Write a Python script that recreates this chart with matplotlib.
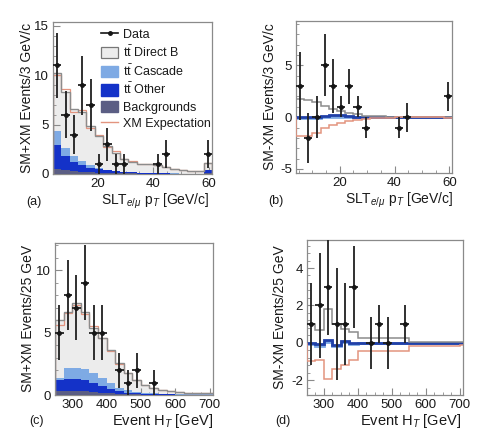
import numpy as np
import matplotlib
matplotlib.use("Agg")
import matplotlib.pyplot as plt
from matplotlib.patches import Patch
from matplotlib.lines import Line2D
from matplotlib.ticker import MultipleLocator, AutoMinorLocator

plt.rcParams['font.family'] = ['Liberation Sans', 'DejaVu Sans']
plt.rcParams['axes.unicode_minus'] = False
plt.rcParams['mathtext.fontset'] = 'custom'
plt.rcParams['mathtext.rm'] = 'Liberation Sans'
plt.rcParams['mathtext.it'] = 'Liberation Sans:italic'

# ---------------- data: lepton pT (3 GeV/c bins) ----------------
pt_edges = [4, 7, 10, 13, 16, 19, 22, 25, 28, 31, 34, 37, 40, 43, 46, 49, 52, 55, 58, 61]
pt_data = [11, 6, 4, 9, 7, 1, 3, 1, 1, None, None, None, 1, 2, None, None, None, None, 2]
pt_err = [3.3, 2.4, 2.0, 3.0, 2.6, 1.0, 1.7, 1.0, 1.0, None, None, None, 1.0, 1.4, None, None, None, None, 1.4]
pt_direct = [5.8, 5.7, 4.8, 5.0, 4.0, 3.15, 2.35, 1.75, 1.25, 1.0, 0.85, 0.88, 0.8, 0.62, 0.44, 0.35, 0.26, 0.26, 0.65]
pt_cascade = [1.5, 0.8, 0.55, 0.4, 0.25, 0.17, 0.09, 0.08, 0.05, 0.04, 0.03, 0.02, 0.02, 0.02, 0.01, 0.01, 0.01, 0.01, 0.03]
pt_other = [2.4, 1.4, 0.95, 0.65, 0.45, 0.33, 0.24, 0.17, 0.12, 0.1, 0.07, 0.06, 0.05, 0.03, 0.03, 0.02, 0.01, 0.01, 0.32]
pt_bkg = [0.5, 0.4, 0.3, 0.25, 0.2, 0.15, 0.12, 0.1, 0.08, 0.06, 0.05, 0.04, 0.03, 0.03, 0.02, 0.02, 0.02, 0.02, 0.1]
pt_xm = [10.0, 8.6, 6.3, 6.5, 4.7, 4.0, 2.7, 2.3, 1.5, 1.3, 1.0, 1.0, 0.9, 0.7, 0.5, 0.4, 0.3, 0.3, 1.1]

# SM-XM differences (pT)
pt_diff_data = [3, -2, 0, 5, 3, 1, 3, 1, -1, None, None, None, -1, 0, None, None, None, None, 2]
pt_diff_direct = [1.8, 1.7, 1.5, 1.1, 0.8, 0.6, 0.45, 0.35, 0.15, 0.1, 0.1, 0.05, 0.03, 0.02, 0.01, 0.01, 0.0, 0.0, 0.05]
pt_diff_xm = [-1.85, -1.8, -1.5, -1.05, -0.8, -0.6, -0.4, -0.3, -0.2, -0.1, -0.1, -0.05, 0.05, 0.0, 0.0, 0.0, 0.0, 0.0, -0.05]
pt_diff_cascade = [-0.1, -0.1, -0.05, 0.0, 0.05, 0.05, 0.02, 0.0, 0.0, 0.0, 0.0, 0.0, 0.0, 0.0, 0.0, 0.0, 0.0, 0.0, 0.0]
pt_diff_other = [0.0, 0.0, 0.05, 0.15, 0.2, 0.2, 0.1, 0.05, 0.02, 0.0, 0.0, 0.0, 0.0, 0.0, 0.0, 0.0, 0.0, 0.0, 0.0]

# ---------------- data: event HT (25 GeV bins) ----------------
ht_edges = [250, 275, 300, 325, 350, 375, 400, 425, 450, 475, 500, 525, 550, 575, 600, 625, 650, 675, 700, 725]
ht_data = [5, 8, 7, 9, 5, 5, None, 2, 1, 2, None, 1, None, None, None, None, None, None, None]
ht_err = [2.2, 2.8, 2.6, 3.0, 2.2, 2.2, None, 1.4, 1.0, 1.4, None, 1.0, None, None, None, None, None, None, None]
ht_direct = [4.6, 4.5, 5.2, 4.6, 3.6, 3.2, 2.6, 2.0, 1.42, 0.93, 0.6, 0.4, 0.3, 0.22, 0.18, 0.14, 0.13, 0.1, 0.1]
ht_cascade = [0.2, 0.9, 0.9, 0.9, 0.8, 0.68, 0.5, 0.3, 0.18, 0.12, 0.1, 0.07, 0.04, 0.03, 0.03, 0.02, 0.02, 0.02, 0.02]
ht_other = [0.85, 0.95, 1.0, 0.9, 0.75, 0.52, 0.35, 0.2, 0.13, 0.1, 0.06, 0.05, 0.03, 0.03, 0.02, 0.02, 0.01, 0.01, 0.01]
ht_bkg = [0.35, 0.35, 0.3, 0.3, 0.25, 0.2, 0.15, 0.1, 0.07, 0.05, 0.04, 0.03, 0.03, 0.02, 0.02, 0.02, 0.02, 0.02, 0.02]
ht_xm = [5.6, 6.6, 7.2, 6.5, 5.5, 4.6, 3.5, 2.5, 1.8, 1.2, 0.8, 0.55, 0.4, 0.3, 0.25, 0.2, 0.18, 0.15, 0.15]

# SM-XM differences (HT)
ht_diff_data = [1, 2, 3, 1, 1, 3, None, 0, 1, 0, None, 1, None, None, None, None, None, None, None]
ht_diff_direct = [1.0, 0.7, 1.8, 1.0, 0.75, 0.6, 0.27, 0.27, 0.27, 0.27, 0.27, 0.27, 0.05, 0.05, 0.04, 0.04, 0.03, 0.05, 0.05]
ht_diff_xm = [-1.0, -0.95, -1.95, -1.4, -1.2, -0.9, -0.45, -0.45, -0.45, -0.45, -0.45, -0.45, -0.18, -0.18, -0.18, -0.15, -0.15, -0.18, -0.1]
ht_diff_cascade = [-0.05, -0.15, 0.05, -0.2, 0.05, -0.05, 0.0, 0.0, 0.0, 0.0, 0.0, 0.0, 0.0, 0.0, 0.0, 0.0, 0.0, 0.0, 0.0]
ht_diff_other = [0.0, -0.05, 0.12, -0.1, 0.08, 0.0, -0.02, -0.02, -0.02, 0.0, 0.0, 0.0, 0.0, 0.0, 0.0, 0.0, 0.0, 0.0, 0.0]

legend_labels = ["Data", r"$\mathrm{t\bar{t}}$ Direct B", r"$\mathrm{t\bar{t}}$ Cascade",
                 r"$\mathrm{t\bar{t}}$ Other", "Backgrounds", "XM Expectation"]

# ---------------- styles ----------------
C_DIRECT = '#ececec'
C_DIRECT_EDGE = '#8c8c8c'
C_CASC = '#7eaae4'
C_OTHER = '#1432c8'
C_OTHER_LINE = '#2040a8'
C_BKG = '#5b5e84'
C_XM = '#e3947f'
C_FRAME = '#8a8a8a'
C_TEXT = '#1a1a1a'

W, H = 496, 432
fig = plt.figure(figsize=(W / 100, H / 100), dpi=100)


def rect(l, t, r, b):
    return [l / W, 1 - b / H, (r - l) / W, (b - t) / H]


def style_axes(ax):
    for s in ax.spines.values():
        s.set_color(C_FRAME)
        s.set_linewidth(0.9)
    ax.tick_params(which='both', direction='in', colors=C_FRAME, labelcolor=C_TEXT,
                   labelsize=9.5, top=False, right=False)
    ax.tick_params(which='major', length=5)
    ax.tick_params(axis='x', which='major', pad=3)
    ax.tick_params(axis='y', which='major', pad=3)
    ax.tick_params(which='minor', length=2.5)
    ax.xaxis.set_minor_locator(AutoMinorLocator(4))
    ax.yaxis.set_minor_locator(AutoMinorLocator(5))


def arr(v):
    return np.array([np.nan if x is None else x for x in v], dtype=float)


def draw_stack(ax, edges, direct, casc, other, bkg, xm):
    e = np.array(edges, dtype=float)
    layers = np.cumsum(np.vstack([bkg, other, casc, direct]), axis=0)
    ax.stairs(layers[3], e, fill=True, color=C_DIRECT, zorder=1)
    ax.stairs(layers[2], e, fill=True, color=C_CASC, zorder=2)
    ax.stairs(layers[1], e, fill=True, color=C_OTHER, zorder=3)
    ax.stairs(layers[0], e, fill=True, color=C_BKG, zorder=4)
    ax.stairs(xm, e, color=C_XM, lw=0.9, zorder=5)
    ax.stairs(layers[3], e, color=C_DIRECT_EDGE, lw=1.0, zorder=6)


def draw_diff(ax, edges, direct, xm, casc, other):
    e = np.array(edges, dtype=float)
    ax.stairs(casc, e, color=C_CASC, lw=2.0, zorder=3)
    ax.stairs(other, e, color=C_OTHER_LINE, lw=2.0, zorder=4)
    ax.stairs(direct, e, color=C_DIRECT_EDGE, lw=1.1, zorder=5)
    ax.stairs(xm, e, color=C_XM, lw=1.1, zorder=6)


def draw_data(ax, edges, vals, errs):
    e = np.array(edges, dtype=float)
    c = 0.5 * (e[:-1] + e[1:])
    hw = 0.5 * (e[1:] - e[:-1])
    y = arr(vals)
    er = arr(errs)
    m = ~np.isnan(y)
    ax.errorbar(c[m], y[m], yerr=er[m], xerr=hw[m], fmt='o', ms=2.5, color='#151515',
                ecolor='#202020', elinewidth=1.3, capsize=0, zorder=10)


# ---------- (a) ----------
axa = fig.add_axes(rect(53, 22, 212, 174))
draw_stack(axa, pt_edges, pt_direct, pt_cascade, pt_other, pt_bkg, pt_xm)
draw_data(axa, pt_edges, pt_data, pt_err)
axa.set_xlim(4, 61)
axa.set_ylim(0, 15.4)
axa.xaxis.set_major_locator(MultipleLocator(20))
axa.yaxis.set_major_locator(MultipleLocator(5))
style_axes(axa)

handles = [
    Line2D([0], [0], color='#151515', marker='o', ms=2.5, lw=1.2),
    Patch(facecolor=C_DIRECT, edgecolor='#777777', lw=0.9),
    Patch(facecolor=C_CASC, edgecolor=C_CASC),
    Patch(facecolor=C_OTHER, edgecolor=C_OTHER),
    Patch(facecolor=C_BKG, edgecolor=C_BKG),
    Line2D([0], [0], color=C_XM, lw=1.0),
]
leg = axa.legend(handles, legend_labels, loc='upper left', bbox_to_anchor=(0.305, 0.96),
                 frameon=False, fontsize=9, handlelength=1.3, handleheight=1.0,
                 handletextpad=0.45, labelspacing=0.27, borderpad=0.0, borderaxespad=0.0)
for t in leg.get_texts():
    t.set_color(C_TEXT)

# ---------- (b) ----------
axb = fig.add_axes(rect(296, 21, 452, 173))
draw_diff(axb, pt_edges, pt_diff_direct, pt_diff_xm, pt_diff_cascade, pt_diff_other)
draw_data(axb, pt_edges, pt_diff_data, pt_err)
axb.set_xlim(4, 61)
axb.set_ylim(-5.4, 9.3)
axb.xaxis.set_major_locator(MultipleLocator(20))
axb.yaxis.set_major_locator(MultipleLocator(5))
style_axes(axb)

# ---------- (c) ----------
axc = fig.add_axes(rect(55, 243, 213, 395))
draw_stack(axc, ht_edges, ht_direct, ht_cascade, ht_other, ht_bkg, ht_xm)
draw_data(axc, ht_edges, ht_data, ht_err)
axc.set_xlim(250, 710)
axc.set_ylim(0, 12.2)
axc.xaxis.set_major_locator(MultipleLocator(100))
axc.yaxis.set_major_locator(MultipleLocator(5))
style_axes(axc)

# ---------- (d) ----------
axd = fig.add_axes(rect(307, 240, 463, 395))
draw_diff(axd, ht_edges, ht_diff_direct, ht_diff_xm, ht_diff_cascade, ht_diff_other)
draw_data(axd, ht_edges, ht_diff_data, ht_err)
axd.set_xlim(250, 710)
axd.set_ylim(-2.8, 5.5)
axd.xaxis.set_major_locator(MultipleLocator(100))
axd.yaxis.set_major_locator(MultipleLocator(2))
style_axes(axd)


def ftext(x, y, s, **kw):
    fig.text(x / W, 1 - y / H, s, color=C_TEXT, **kw)


# axis titles
ftext(27, 98, "SM+XM Events/3 GeV/c", rotation=90, ha='center', va='center', fontsize=10)
ftext(270, 97, "SM-XM Events/3 GeV/c", rotation=90, ha='center', va='center', fontsize=10)
ftext(28, 318, "SM+XM Events/25 GeV", rotation=90, ha='center', va='center', fontsize=10)
ftext(280, 317, "SM-XM Events/25 GeV", rotation=90, ha='center', va='center', fontsize=10)

ftext(209, 201, r"SLT$_{e/\mu}$ p$_T$ [GeV/c]", ha='right', va='center', fontsize=10)
ftext(453, 200, r"SLT$_{e/\mu}$ p$_T$ [GeV/c]", ha='right', va='center', fontsize=10)
ftext(213, 421, r"Event H$_T$ [GeV]", ha='right', va='center', fontsize=10.5)
ftext(461, 421, r"Event H$_T$ [GeV]", ha='right', va='center', fontsize=10.5)

# panel labels
ftext(34, 202, "(a)", ha='center', va='center', fontsize=9)
ftext(276, 201, "(b)", ha='center', va='center', fontsize=9)
ftext(37, 421, "(c)", ha='center', va='center', fontsize=9)
ftext(283, 421, "(d)", ha='center', va='center', fontsize=9)

fig.savefig("out.png", dpi=100)
